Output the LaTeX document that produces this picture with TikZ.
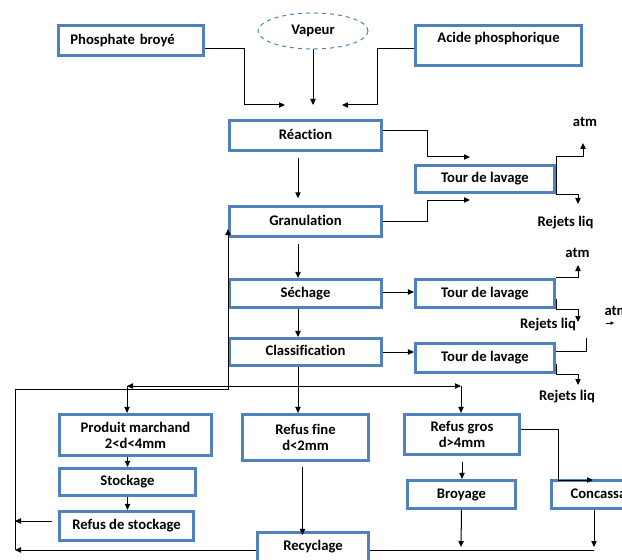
\documentclass[tikz,border=0pt]{standalone}
\usepackage{fontspec}
\setmainfont{Carlito}[Ligatures=NoCommon]
\usetikzlibrary{arrows.meta,shapes.geometric,calc}
\definecolor{lblue}{RGB}{79,129,189}

\begin{document}
\begin{tikzpicture}[x=0.75pt,y=-0.75pt,
    >={Triangle[length=4.5pt,width=4pt]},
    every path/.style={line width=0.75pt},
    bx/.style={draw=lblue, line width=2.1pt, inner sep=2pt,
        font=\fontsize{11}{12}\selectfont\bfseries,
        text height=8pt, text depth=2.5pt},
    bxx/.style={draw=lblue, line width=2.1pt, inner sep=2pt, align=center,
        font=\fontsize{11}{12}\selectfont\bfseries},
    lbl/.style={inner sep=0pt, font=\fontsize{11}{12}\selectfont\bfseries}]

\useasboundingbox (0,0) rectangle (622,560);

% inputs
\node[bx, minimum width=109pt, minimum height=22.75pt, inner xsep=9pt,
    text width=91pt, align=left] (phos) at (131,40.5) {Phosphate broyé};
\node[ellipse, draw=lblue, dashed, minimum width=82.5pt, minimum height=27pt,
    inner sep=0pt, font=\fontsize{11}{12}\selectfont\bfseries] (vap) at (313,31) {Vapeur};
\node[bx, minimum width=124.75pt, minimum height=30.25pt, text depth=12pt]
    (acide) at (498.5,45.5) {Acide phosphorique};

% main line
\node[bx, minimum width=114.25pt, minimum height=22.75pt] (reac)  at (305.5,135.5) {Réaction};
\node[bx, minimum width=114.25pt, minimum height=22.75pt] (gran)  at (305.5,221.5) {Granulation};
\node[bx, minimum width=114.25pt, minimum height=21.25pt] (sech)  at (305.5,293.5) {Séchage};
\node[bx, minimum width=114.25pt, minimum height=20.5pt]  (class) at (305.5,352) {Classification};

% tours de lavage
\node[bx, minimum width=104.5pt, minimum height=20.5pt]  (tour1) at (485,179) {Tour de lavage};
\node[bx, minimum width=104.5pt, minimum height=21.25pt] (tour2) at (485,293.5) {Tour de lavage};
\node[bx, minimum width=104.5pt, minimum height=22pt]    (tour3) at (485,358) {Tour de lavage};

% products
\node[bxx, minimum width=114.25pt, minimum height=31pt]   (prod)     at (135.5,435) {Produit marchand\\2<d<4mm};
\node[bx,  minimum width=102.25pt, minimum height=20.5pt] (stock)    at (127.5,482) {Stockage};
\node[bx,  minimum width=100.75pt, minimum height=22pt]   (refstock) at (126.5,526) {Refus de stockage};
\node[bxx, minimum width=94.75pt,  minimum height=34.75pt] (fine)    at (305.5,437.5) {Refus fine\\d<2mm};
\node[bxx, minimum width=86.5pt,   minimum height=30.25pt] (gros)    at (462,434.5) {Refus gros\\d>4mm};
\node[bx,  minimum width=81.25pt,  minimum height=21.25pt] (broy)    at (461.5,494.5) {Broyage};
\node[bx,  minimum width=81.25pt,  minimum height=21.25pt] (conc)    at (605.5,494.5) {Concassage};
\node[bx,  minimum width=83.5pt,   minimum height=22pt]   (recy)     at (313,547) {Recyclage};

% labels
\node[lbl] (atmt1) at (585,122) {atm};
\node[lbl] (atmt2) at (577.5,253) {atm};
\node[lbl, anchor=west] (atmt3) at (604,311) {atm};
\node[lbl] (rejt1) at (565.5,223) {Rejets liq};
\node[lbl] (rejt2) at (548,325) {Rejets liq};
\node[lbl] (rejt3) at (567,397) {Rejets liq};

% free ends
\coordinate (in1) at (285,105);
\coordinate (in2) at (313,105);
\coordinate (in3) at (342,105);
\coordinate (t1a) at (470,157);
\coordinate (t1b) at (470,200);
\coordinate (atm1) at (583,143);
\coordinate (rej1) at (578,204);
\coordinate (atm2) at (578,265);
\coordinate (rej2) at (578,322);
\coordinate (rej3) at (578,385);
\coordinate (s1) at (606,323);
\coordinate (s2) at (614,323);
\coordinate (dl) at (127,386);
\coordinate (dr) at (461,386);
\coordinate (lb) at (15,550);
\coordinate (lt) at (228,389);
\coordinate (cin) at (593,480);
\coordinate (b1) at (461,547);
\coordinate (b2) at (594,547);

% into reaction
\draw[->] ($(phos.east)+(0,8.5)$) -- ++(39,0) |- (in1);
\draw[->] (vap.south) -- (in2);
\draw[->] ($(acide.west)+(0,3.5)$) -- ++(-36,0) |- (in3);

\draw[->, shorten <=4.5pt, shorten >=5pt] ($(reac.south)+(-7.5,0)$) -- ($(gran.north)+(-7.5,0)$);
\draw[->] ($(reac.east)+(0,-4.5)$) -- ++(44,0) |- (t1a);
\draw[->] (gran.east) -- ++(44,0) |- (t1b);
\draw[->, shorten <=4.5pt] ($(gran.south)+(-7.5,0)$) -- ($(sech.north)+(-7.5,0)$);
\draw[->] ($(sech.south)+(-7.5,0)$) -- ($(class.north)+(-7.5,0)$);
\draw[->] ($(sech.east)+(0,-1.5)$) -- ($(tour2.west)+(0,-1.5)$);
\draw[->] (class.east) -- (class.east -| tour3.west);

% gas and liquid out
\draw[->] (tour1.south east) -- ($(tour1.north east)+(0,-7)$) -| (atm1);
\draw[->] (tour1.south east) -| (rej1);
\draw[->] (tour2.north east) -| (atm2);
\draw[->] ($(tour2.south east)+(0,-10)$) -- (tour2.south east) -| (rej2);
\draw ($(tour3.east)+(0,-7)$) -- ++(30,0) -- ++(0,-13);
\draw[->] ($(tour3.south east)+(0,-10)$) -- (tour3.south east) -| (rej3);
\draw[-{Triangle[length=2.5pt,width=2.5pt]}] (s1) -- (s2);

% classification
\draw[->] ($(class.south)+(-7.5,0)$) -- ($(class.south |- fine.north)+(-7.5,0)$);
\draw[<->] (dl) -- (dr);
\draw[->] (dl) -- (dl |- prod.north);
\draw[->] (dr) -- (dr |- gros.north);
\draw[->] (stock.north |- prod.south) -- (stock.north);
\draw[->] (stock.south) -- (stock.south |- refstock.north);
\draw[->, shorten <=4pt] ($(fine.south)+(-3,0)$) -- ($(fine.south |- recy.north)+(-3,4)$);
\draw[->, shorten <=4.5pt] (gros.south) -- (gros.south |- broy.north);
\draw[->] ($(gros.east)+(0,-5.5)$) -- ++(37,0) |- (cin);
\draw[->] (broy.south) -- (b1);
\draw[->] (b2 |- conc.south) -- (b2);

% recycle loop
\draw[->] ($(recy.west)+(0,3)$) -- (lb);
\draw[->] (lb) |- (lt) -- ($(lt |- gran.south)+(0,-9)$);
\draw[->, shorten <=4.5pt] ($(refstock.west)+(0,-5)$) -- ($(refstock.west -| lb)+(0,-5)$);
\draw ($(recy.east)+(0,3)$) -- ++(224,0);

\end{tikzpicture}
\end{document}
